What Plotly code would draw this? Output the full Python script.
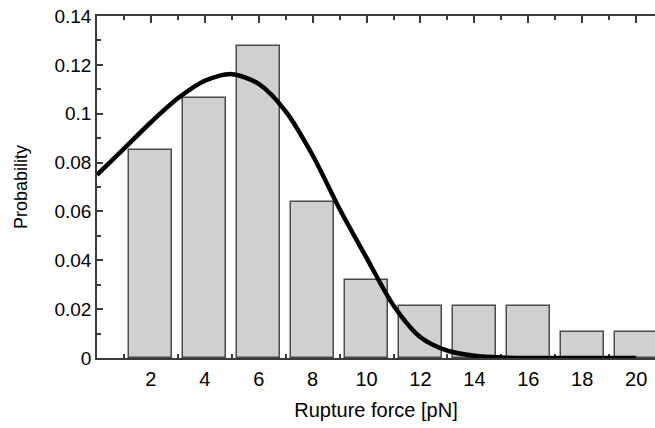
import plotly.graph_objects as go

# Histogram data
bin_centers = [2, 4, 6, 8, 10, 12, 14, 16, 18, 20]
probabilities = [0.0851, 0.1064, 0.1277, 0.0638, 0.0319, 0.0213, 0.0213, 0.0213, 0.0106, 0.0106]

# Fitted curve
fit_x = [0, 1, 2, 3, 4, 5, 6, 7, 8, 9, 10, 11, 12, 13, 14, 15, 16, 17, 18, 19, 20]
fit_y = [0.075, 0.0857, 0.0965, 0.1063, 0.1135, 0.1162, 0.1122, 0.101, 0.083, 0.061, 0.041,
         0.0215, 0.0085, 0.003, 0.0009, 0.0002, 0.0, 0.0, 0.0, 0.0, 0.0]

x_tick_vals = [2, 4, 6, 8, 10, 12, 14, 16, 18, 20]
y_tick_vals = [0, 0.02, 0.04, 0.06, 0.08, 0.1, 0.12, 0.14]
y_tick_text = ["0", "0.02", "0.04", "0.06", "0.08", "0.1", "0.12", "0.14"]

FONT = "Liberation Sans, Arial, sans-serif"
AX = "#3a3a3a"

fig = go.Figure()
fig.add_trace(go.Bar(
    x=bin_centers, y=probabilities, width=1.6,
    marker=dict(color="#d0d0d0", line=dict(color="#4a4a4a", width=1.5)),
    showlegend=False,
))
fig.add_trace(go.Scatter(
    x=fit_x, y=fit_y, mode="lines",
    line=dict(color="black", width=4.5, shape="spline", smoothing=0.8),
    showlegend=False,
))

fig.update_layout(
    width=655, height=428,
    margin=dict(l=97, r=0, t=16, b=70),
    plot_bgcolor="white", paper_bgcolor="white",
    font=dict(family=FONT, color="black"),
    bargap=0,
    xaxis=dict(
        range=[0, 20.7], tickvals=x_tick_vals,
        ticks="inside", ticklen=7, tickwidth=1.5, tickcolor=AX,
        showline=True, linecolor=AX, linewidth=1.5, mirror="ticks",
        showgrid=False, zeroline=False,
        tickfont=dict(size=20, family=FONT),
        ticklabelstandoff=2,
        minor=dict(ticks="inside", tick0=1, dtick=2, ticklen=4, tickcolor=AX, tickwidth=1.5),
        title=dict(text="Rupture force [pN]", font=dict(size=20, family=FONT), standoff=14),
        layer="below traces",
    ),
    yaxis=dict(
        range=[0, 0.14], tickvals=y_tick_vals, ticktext=y_tick_text,
        ticks="inside", ticklen=6, tickwidth=1.5, tickcolor=AX,
        showline=True, linecolor=AX, linewidth=1.5,
        showgrid=False, zeroline=False,
        tickfont=dict(size=19, family=FONT),
        ticklabelstandoff=0,
        minor=dict(ticks="inside", tick0=0.01, dtick=0.02, ticklen=4, tickcolor=AX, tickwidth=1.5),
        title=dict(text="Probability", font=dict(size=18, family=FONT), standoff=22),
    ),
)

fig.write_html(
    "out.html",
    config={"displayModeBar": False},
    post_script="document.body.style.margin='0px';document.body.style.overflow='hidden';",
)
